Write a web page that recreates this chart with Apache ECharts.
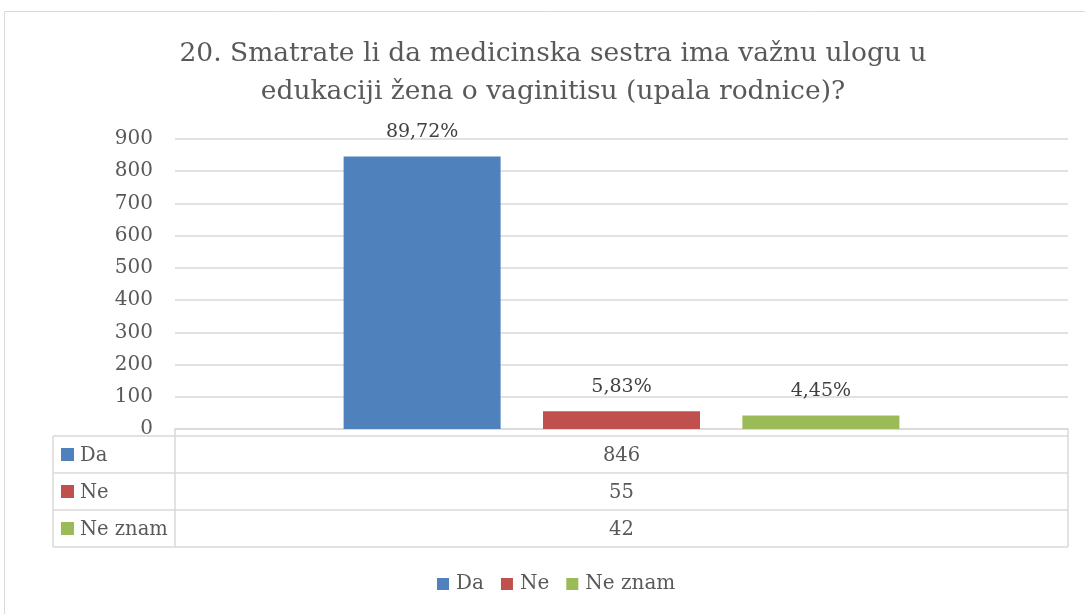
<!DOCTYPE html>
<html>
<head>
<meta charset="utf-8">
<script src="https://cdn.jsdelivr.net/npm/echarts@6/dist/echarts.min.js"></script>
<style>
html,body{margin:0;padding:0;background:#fff;}
#main{width:1085px;height:614px;}
</style>
</head>
<body>
<div id="main"></div>
<script>
const titleText = '20. Smatrate li da medicinska sestra ima važnu ulogu u\nedukaciji žena o vaginitisu (upala rodnice)?';
const seriesNames = ['Da', 'Ne', 'Ne znam'];
const seriesValues = [846, 55, 42];
const seriesPercents = ['89,72%', '5,83%', '4,45%'];
const categories = [''];
const yTicks = [0, 100, 200, 300, 400, 500, 600, 700, 800, 900];
const colors = ['#4F81BD', '#C0504D', '#9BBB59'];

const FONT = '"DejaVu Serif", serif';
const TXT = '#595959';
const LINE = '#D9D9D9';
const G = {left: 175, right: 17, top: 139, height: 290};
const gRight = 1085 - G.right;
const gBottom = G.top + G.height;
const tbl = {left: 53, top: 436, rowH: 37};

const chart = echarts.init(document.getElementById('main'));

const series = seriesNames.map((n, i) => ({
  name: n,
  type: 'bar',
  data: [seriesValues[i]],
  barWidth: 157,
  barGap: '27%',
  itemStyle: {color: colors[i]},
  label: {
    show: true, position: 'top', distance: 15,
    formatter: () => seriesPercents[i],
    fontFamily: FONT, fontSize: 19, color: '#404040'
  }
}));

const graphics = [];
// outer border
graphics.push({type: 'rect', shape: {x: 4.5, y: 11.5, width: 1100, height: 620}, style: {fill: null, stroke: LINE, lineWidth: 1}, silent: true});
// title
graphics.push({type: 'text', x: 553, y: 35, style: {text: titleText, font: '26.5px ' + FONT, fill: TXT, textAlign: 'center', lineHeight: 38}});
// table lines
const hl = (x1, x2, y) => graphics.push({type: 'line', shape: {x1, y1: y, x2, y2: y}, style: {stroke: LINE, lineWidth: 1.5}, silent: true});
const vl = (x, y1, y2) => graphics.push({type: 'line', shape: {x1: x, y1, x2: x, y2}, style: {stroke: LINE, lineWidth: 1.5}, silent: true});
const nRows = seriesNames.length;
for (let r = 0; r <= nRows; r++) hl(tbl.left, gRight, tbl.top + r * tbl.rowH);
const tblBottom = tbl.top + nRows * tbl.rowH;
vl(tbl.left, tbl.top, tblBottom);
vl(G.left, gBottom, tblBottom);
vl(gRight, gBottom, tblBottom);
seriesNames.forEach((n, r) => {
  const cy = tbl.top + r * tbl.rowH + tbl.rowH / 2;
  graphics.push({type: 'rect', shape: {x: 61, y: cy - 6.5, width: 13, height: 13}, style: {fill: colors[r]}});
  graphics.push({type: 'text', x: 80, y: cy + 1, style: {text: n, font: '19.5px ' + FONT, fill: TXT, textVerticalAlign: 'middle'}});
  graphics.push({type: 'text', x: (G.left + gRight) / 2, y: cy + 1, style: {text: String(seriesValues[r]), font: '19.5px ' + FONT, fill: TXT, textAlign: 'center', textVerticalAlign: 'middle'}});
});

chart.setOption({
  animation: false,
  color: colors,
  grid: {left: G.left, right: G.right, top: G.top, height: G.height, containLabel: false},
  legend: {
    bottom: 15, left: 432, itemWidth: 12, itemHeight: 12, itemGap: 17,
    icon: 'rect',
    textStyle: {fontFamily: FONT, fontSize: 20, color: TXT, padding: [0, 0, 0, 2]},
    data: seriesNames
  },
  xAxis: {
    type: 'category', data: categories,
    axisLine: {show: true, lineStyle: {color: LINE, width: 1.5}},
    axisTick: {show: false}, axisLabel: {show: false}
  },
  yAxis: {
    type: 'value', min: yTicks[0], max: yTicks[yTicks.length - 1], interval: yTicks[1] - yTicks[0],
    axisLine: {show: false}, axisTick: {show: false},
    axisLabel: {fontFamily: FONT, fontSize: 20, color: TXT, margin: 22},
    splitLine: {lineStyle: {color: LINE, width: 1.5}}
  },
  graphic: graphics,
  series: series
});
</script>
</body>
</html>
